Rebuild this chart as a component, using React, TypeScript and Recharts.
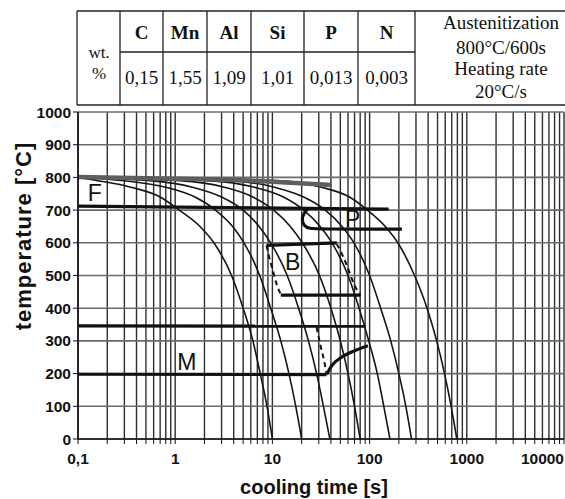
import { LineChart, Line, XAxis, YAxis, CartesianGrid, ReferenceDot } from "recharts";

const coolTemps = [800, 790, 770, 740, 700, 650, 600, 500, 400, 300, 200, 100, 0];

// cooling curve times [s] at coolTemps
const curve10 = [0.1, 0.16, 0.35, 0.7, 1.1, 1.8, 2.5, 3.8, 5.0, 6.3, 7.5, 8.8, 10];
const curve20 = [0.1, 0.3, 0.8, 1.6, 2.6, 3.9, 5.1, 7.4, 9.6, 12.2, 14.8, 17.4, 20];
const curve38 = [0.1, 0.55, 1.5, 3.0, 5.0, 7.3, 9.6, 14.2, 18.6, 23.5, 28.5, 33.5, 39];
const curve80 = [0.1, 1.1, 3.2, 6.3, 10.3, 15.3, 20.3, 30.5, 40, 50, 60, 70, 80];
const curve165 = [0.1, 2.2, 6.5, 13, 21, 31, 41, 60, 78, 98, 120, 140, 162];
const curve270 = [0.1, 3.6, 10.5, 21, 35, 52, 69, 100, 130, 165, 200, 236, 270];
const curve800 = [0.1, 11, 32, 62, 95, 145, 195, 290, 390, 490, 590, 690, 790];
const coolingCurves = [curve10, curve20, curve38, curve80, curve165, curve270, curve800];

// transformation lines, [time s, temperature °C]
const austeniteBand = [[0.1, 801], [1, 796], [10, 787], [41, 777]];
const ferriteStart = [[0.1, 712], [157, 703]];
const pearliteStart = [[23.5, 706], [21, 690], [20, 672], [21, 652], [24, 643], [30, 642], [215, 642]];
const bainiteStart = [[8.7, 592], [46, 600]];
const bainiteLeft = [[8.7, 592], [9.2, 560], [10, 520], [11, 475], [12.2, 442]];
const bainiteRight = [[46, 596], [53, 560], [62, 510], [70, 470], [80, 442]];
const bainiteEnd = [[12.2, 440], [81, 440]];
const msLine = [[0.1, 346], [90, 345]];
const martensiteDash = [[28.5, 342], [31, 290], [34, 240], [36, 200]];
const martensiteStart = [[0.1, 198], [36, 197]];
const martensiteCurve = [[36, 197], [41, 225], [52, 251], [73, 272], [96, 285]];

const phaseLabels = [
  { t: 0.149, T: 752, text: "F" },
  { t: 67, T: 673, text: "P" },
  { t: 16.2, T: 541, text: "B" },
  { t: 1.32, T: 235, text: "M" },
];

const timeTicks = [
  0.1, 0.2, 0.3, 0.4, 0.5, 0.6, 0.7, 0.8, 0.9,
  1, 2, 3, 4, 5, 6, 7, 8, 9,
  10, 20, 30, 40, 50, 60, 70, 80, 90,
  100, 200, 300, 400, 500, 600, 700, 800, 900,
  1000, 2000, 3000, 4000, 5000, 6000, 7000, 8000, 9000,
  10000,
];
const timeLabels: Record<string, string> = {
  "0.1": "0,1", "1": "1", "10": "10", "100": "100", "1000": "1000", "10000": "10000",
};
const tempTicks = [0, 100, 200, 300, 400, 500, 600, 700, 800, 900, 1000];

// composition table
const elements = ["C", "Mn", "Al", "Si", "P", "N"];
const contents = ["0,15", "1,55", "1,09", "1,01", "0,013", "0,003"];
const conditions = ["Austenitization", "800°C/600s", "Heating rate", "20°C/s"];

const colEdges = [77, 120, 163, 207, 251, 304, 358, 415];
const sans = "'Liberation Sans', Arial, sans-serif";
const serif = "'Liberation Serif', 'Times New Roman', serif";

const pts = (arr: number[][]) => arr.map(([t, T]) => ({ t, T }));

const TimeTick = ({ x, y, payload }: any) => {
  const label = timeLabels[String(payload.value)];
  if (!label) return <g />;
  const last = payload.value === 10000;
  return (
    <text
      x={x}
      y={y + 18}
      textAnchor={last ? "end" : "middle"}
      fill="#111"
      fontSize={15.5}
      fontWeight={700}
      fontFamily={sans}
    >
      {label}
    </text>
  );
};

function CompositionTable() {
  const rowY = [11, 52, 105];
  return (
    <svg width={565} height={110} style={{ position: "absolute", left: 0, top: 0 }}>
      <g stroke="#222" strokeWidth={1.3}>
        <line x1={77} y1={rowY[0]} x2={565} y2={rowY[0]} />
        <line x1={120} y1={rowY[1]} x2={415} y2={rowY[1]} />
        <line x1={77} y1={rowY[2]} x2={565} y2={rowY[2]} />
        {colEdges.map(x => (
          <line key={x} x1={x} y1={rowY[0]} x2={x} y2={rowY[2]} />
        ))}
      </g>
      <g fill="#111" fontFamily={serif} fontSize={19} textAnchor="middle">
        <text x={99} y={58} fontSize={17}>wt.</text>
        <text x={99} y={79} fontSize={17}>%</text>
        {elements.map((el, i) => (
          <text key={el} x={(colEdges[i + 1] + colEdges[i + 2]) / 2} y={39} fontWeight={700}>
            {el}
          </text>
        ))}
        {contents.map((v, i) => (
          <text key={i} x={(colEdges[i + 1] + colEdges[i + 2]) / 2} y={84}>
            {v}
          </text>
        ))}
        {conditions.map((c, i) => (
          <text key={c} x={501} y={[29, 54, 75, 98][i]}>
            {c}
          </text>
        ))}
      </g>
    </svg>
  );
}

export default function App() {
  return (
    <div style={{ position: "absolute", left: 0, top: 0, width: 565, height: 499, background: "#fff" }}>
      <LineChart width={565} height={499} margin={{ top: 112, right: 1, bottom: 30, left: 8 }}>
        <CartesianGrid horizontal={false} stroke="#2e2e2e" strokeWidth={1.4} />
        <CartesianGrid vertical={false} stroke="#6a6a6a" strokeWidth={1.6} />
        <XAxis
          dataKey="t"
          type="number"
          scale="log"
          domain={[0.1, 10000]}
          allowDataOverflow
          ticks={timeTicks}
          interval={0}
          height={30}
          tickSize={5}
          tick={<TimeTick />}
          axisLine={{ stroke: "#111", strokeWidth: 1.5 }}
          tickLine={{ stroke: "#111" }}
        />
        <YAxis
          type="number"
          domain={[0, 1000]}
          ticks={tempTicks}
          interval={0}
          width={70}
          tickSize={5}
          tick={{ fill: "#111", fontSize: 15.5, fontWeight: 700, fontFamily: sans }}
          axisLine={{ stroke: "#111", strokeWidth: 1.5 }}
          tickLine={{ stroke: "#111" }}
        />
        {coolingCurves.map((times, i) => (
          <Line
            key={`cool-${i}`}
            data={times.map((t, j) => ({ t, T: coolTemps[j] }))}
            dataKey="T"
            type="monotone"
            stroke="#151515"
            strokeWidth={1.6}
            dot={false}
            isAnimationActive={false}
          />
        ))}
        <Line data={pts(austeniteBand)} dataKey="T" type="monotone" stroke="#5e5e5e" strokeWidth={4.5} dot={false} isAnimationActive={false} />
        <Line data={pts(ferriteStart)} dataKey="T" type="linear" stroke="#111" strokeWidth={3.2} dot={false} isAnimationActive={false} />
        <Line data={pts(pearliteStart)} dataKey="T" type="basis" stroke="#111" strokeWidth={3.2} dot={false} isAnimationActive={false} />
        <Line data={pts(bainiteStart)} dataKey="T" type="linear" stroke="#111" strokeWidth={3.2} dot={false} isAnimationActive={false} />
        <Line data={pts(bainiteLeft)} dataKey="T" type="monotone" stroke="#111" strokeWidth={2} strokeDasharray="5 4" dot={false} isAnimationActive={false} />
        <Line data={pts(bainiteRight)} dataKey="T" type="monotone" stroke="#111" strokeWidth={2} strokeDasharray="5 4" dot={false} isAnimationActive={false} />
        <Line data={pts(bainiteEnd)} dataKey="T" type="linear" stroke="#111" strokeWidth={3.2} dot={false} isAnimationActive={false} />
        <Line data={pts(msLine)} dataKey="T" type="linear" stroke="#111" strokeWidth={3.2} dot={false} isAnimationActive={false} />
        <Line data={pts(martensiteDash)} dataKey="T" type="monotone" stroke="#111" strokeWidth={2} strokeDasharray="5 4" dot={false} isAnimationActive={false} />
        <Line data={pts(martensiteStart)} dataKey="T" type="linear" stroke="#111" strokeWidth={3.2} dot={false} isAnimationActive={false} />
        <Line data={pts(martensiteCurve)} dataKey="T" type="monotone" stroke="#111" strokeWidth={3.2} dot={false} isAnimationActive={false} />
        {phaseLabels.map(l => (
          <ReferenceDot
            key={l.text}
            x={l.t}
            y={l.T}
            r={0}
            stroke="none"
            fill="none"
            label={{ value: l.text, position: "center", fontSize: 23, fill: "#111", fontFamily: sans }}
          />
        ))}
      </LineChart>
      <CompositionTable />
      <svg width={565} height={499} style={{ position: "absolute", left: 0, top: 0, pointerEvents: "none" }}>
        <text x={314} y={494} textAnchor="middle" fontSize={20} fontWeight={700} fill="#111" fontFamily={sans}>
          cooling time [s]
        </text>
        <text
          transform="translate(31 236) rotate(-90)"
          textAnchor="middle"
          fontSize={22}
          fontWeight={700}
          letterSpacing={1}
          fill="#111"
          fontFamily={sans}
        >
          temperature [°C]
        </text>
      </svg>
    </div>
  );
}
